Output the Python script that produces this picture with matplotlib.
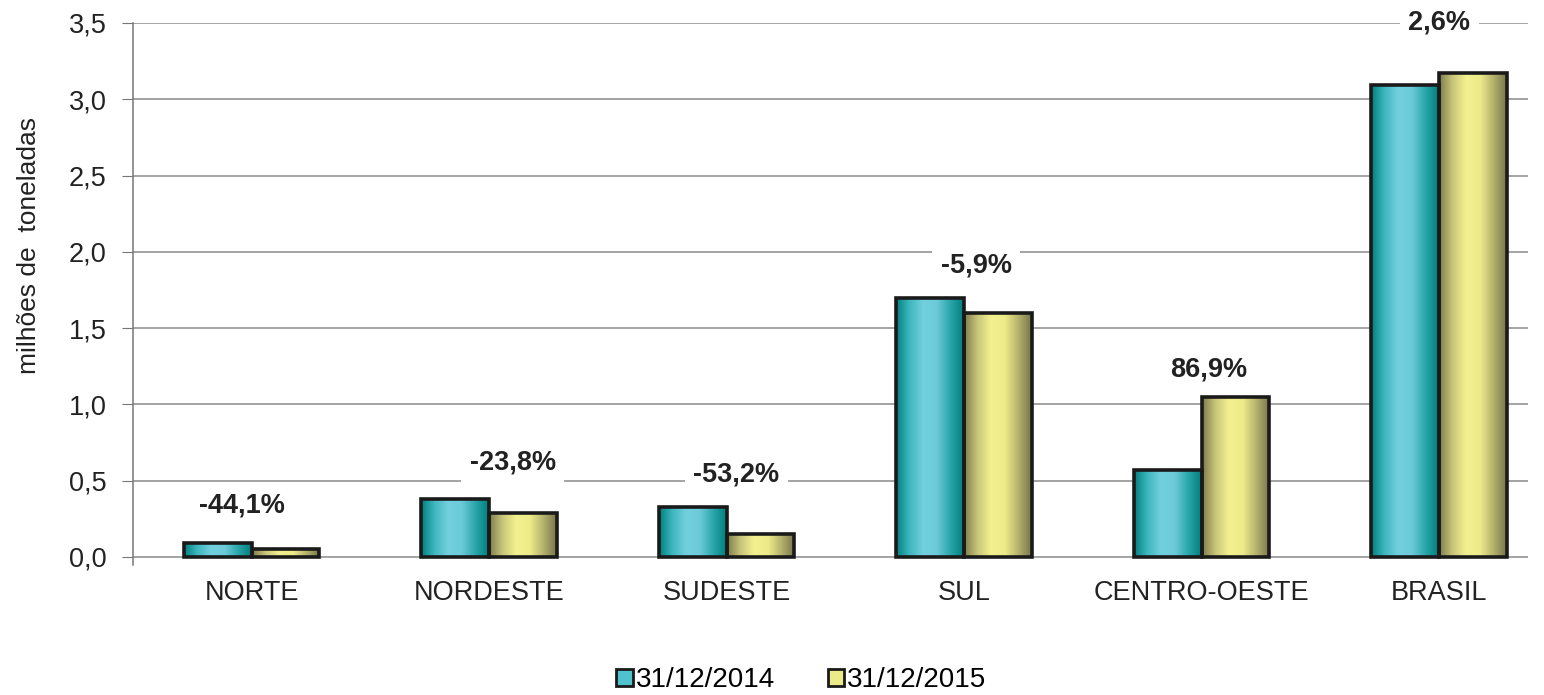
import numpy as np
import matplotlib
matplotlib.use("Agg")
import matplotlib.pyplot as plt
from matplotlib.colors import LinearSegmentedColormap
from matplotlib.patches import Patch

plt.rcParams["font.family"] = ["Liberation Sans", "DejaVu Sans"]

regioes = ["NORTE", "NORDESTE", "SUDESTE", "SUL", "CENTRO-OESTE", "BRASIL"]
v2014 = [0.09, 0.38, 0.33, 1.70, 0.57, 3.09]
v2015 = [0.05, 0.29, 0.15, 1.60, 1.05, 3.17]
variacao = ["-44,1%", "-23,8%", "-53,2%", "-5,9%", "86,9%", "2,6%"]
series = ["31/12/2014", "31/12/2015"]
yticks = [0.0, 0.5, 1.0, 1.5, 2.0, 2.5, 3.0, 3.5]

# where the percent labels sit (x offset from category centre, height in data units)
lab_dx = [-0.04, 0.10, 0.04, 0.05, 0.03, 0.0]
lab_y = [0.34, 0.62, 0.54, 1.91, 1.23, 3.5]

teal = LinearSegmentedColormap.from_list(
    "teal", ["#00807e", "#3fb7bf", "#72d0de", "#6ccbd9", "#2aa6ab", "#007f7c"])
olive = LinearSegmentedColormap.from_list(
    "olive", ["#7d7b4c", "#c9c67a", "#f3f18f", "#eeec8a", "#b5b26c", "#76744a"])

fig = plt.figure(figsize=(15.44, 6.95), dpi=100)
ax = fig.add_axes([0.0861, 0.187, 0.9035, 0.780])

W = 0.285
x = np.arange(len(regioes))
grad = np.linspace(0, 1, 256).reshape(1, -1)
for vals, cmap, off in [(v2014, teal, -W / 2), (v2015, olive, W / 2)]:
    bars = ax.bar(x + off, vals, W, facecolor="none", edgecolor="#1a1a1a", lw=2.6, zorder=4)
    for b in bars:
        x0, y0 = b.get_x(), b.get_y()
        ax.imshow(grad, cmap=cmap, aspect="auto", zorder=3, interpolation="bilinear",
                  extent=[x0, x0 + b.get_width(), y0, y0 + b.get_height()])
ax.set_xlim(-0.5, 5.374)
ax.set_ylim(-0.053, 3.5)

for i, t in enumerate(variacao):
    ax.text(x[i] + lab_dx[i], lab_y[i], t, ha="center", va="center", fontsize=19.5,
            fontweight="bold", color="#222222", zorder=5,
            bbox=dict(facecolor="white", edgecolor="none", pad=6))

ax.set_yticks(yticks)
ax.set_yticklabels([f"{v:.1f}".replace(".", ",") for v in yticks], fontsize=19.5, color="#222222")
ax.set_xticks(x)
ax.set_xticklabels(regioes, fontsize=19.5, color="#222222")
ax.tick_params(axis="x", length=0, pad=11)
ax.tick_params(axis="y", length=8, color="#777777", pad=11)
ax.yaxis.grid(True, color="#8a8a8a", lw=1.1)
ax.set_axisbelow(True)
for s in ["top", "right", "bottom"]:
    ax.spines[s].set_visible(False)
ax.spines["left"].set_color("#777777")
ax.spines["left"].set_linewidth(1.1)
ax.set_ylabel("milhões de  toneladas", fontsize=19, color="#222222")
ax.yaxis.set_label_coords(-0.066, 0.59)

handles = [Patch(facecolor="#4fc2cd", edgecolor="#1a1a1a", lw=2),
           Patch(facecolor="#ecea88", edgecolor="#1a1a1a", lw=2)]
fig.legend(handles, series, loc="center", bbox_to_anchor=(0.519, 0.021), ncol=2,
           frameon=False, fontsize=20, handlelength=0.6, handleheight=0.6,
           handletextpad=0.1, columnspacing=1.9)

fig.savefig("out.png", dpi=100)
